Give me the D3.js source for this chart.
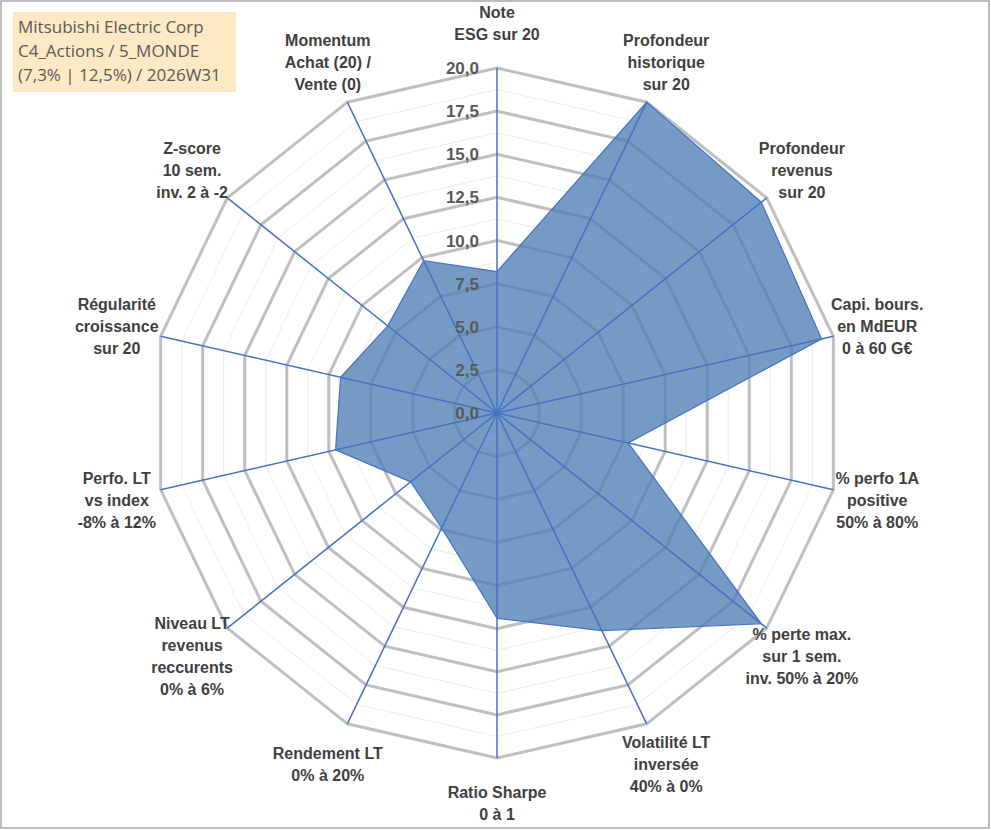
<!DOCTYPE html>
<html>
<head>
<meta charset="utf-8">
<script src="https://cdn.jsdelivr.net/npm/d3@7"></script>
<style>
  body { margin: 0; background: #fff; }
  svg { display: block; }
</style>
</head>
<body>
<svg id="chart" width="991" height="830"></svg>
<script>
// axis labels (clockwise from top)
const axes = [
  ['Note', 'ESG sur 20'],
  ['Profondeur', 'historique', 'sur 20'],
  ['Profondeur', 'revenus', 'sur 20'],
  ['Capi. bours.', 'en MdEUR', '0 à 60 G€'],
  ['% perfo 1A', 'positive', '50% à 80%'],
  ['% perte max.', 'sur 1 sem.', 'inv. 50% à 20%'],
  ['Volatilité LT', 'inversée', '40% à 0%'],
  ['Ratio Sharpe', '0 à 1'],
  ['Rendement LT', '0% à 20%'],
  ['Niveau LT', 'revenus', 'reccurents', '0% à 6%'],
  ['Perfo. LT', 'vs index', '-8% à 12%'],
  ['Régularité', 'croissance', 'sur 20'],
  ['Z-score', '10 sem.', 'inv. 2 à -2'],
  ['Momentum', 'Achat (20) /', 'Vente (0)']
];
const scores = [8.2, 20, 19.6, 19.3, 7.8, 19.6, 14.0, 11.9, 7.4, 6.4, 9.6, 9.3, 8.1, 9.8];
const ticks = [0, 2.5, 5, 7.5, 10, 12.5, 15, 17.5, 20];
const titleLines = ['Mitsubishi Electric Corp', 'C4_Actions / 5_MONDE', '(7,3% | 12,5%) / 2026W31'];

const svg = d3.select('#chart');
const cx = 497, cy = 413, R = 345;
const n = axes.length;
const angle = d3.scaleLinear().domain([0, n]).range([0, 2 * Math.PI]);
const r = d3.scaleLinear().domain([0, 20]).range([0, R]);
const pt = (i, v) => [cx + r(v) * Math.sin(angle(i)), cy - r(v) * Math.cos(angle(i))];

// frame
svg.append('rect').attr('x', 1).attr('y', 1).attr('width', 988).attr('height', 827)
  .attr('fill', '#fff').attr('stroke', '#a6a6a6').attr('stroke-width', 1.5);

// minor rings
const minor = d3.range(1.25, 20, 2.5);
svg.selectAll('.minor').data(minor).enter().append('polygon')
  .attr('points', (v) => d3.range(n).map((i) => pt(i, v).join(',')).join(' '))
  .attr('fill', 'none').attr('stroke', '#ececec').attr('stroke-width', 1);

// major rings
svg.selectAll('.ring').data(ticks.slice(1)).enter().append('polygon')
  .attr('points', (v) => d3.range(n).map((i) => pt(i, v).join(',')).join(' '))
  .attr('fill', 'none').attr('stroke', '#bfbfbf').attr('stroke-width', 3);

// data area
svg.append('polygon')
  .attr('points', scores.map((v, i) => pt(i, v).join(',')).join(' '))
  .attr('fill', '#4f7fb4').attr('fill-opacity', 0.78)
  .attr('stroke', '#4472c4').attr('stroke-width', 1.2);

// spokes
svg.selectAll('.spoke').data(d3.range(n)).enter().append('line')
  .attr('x1', cx).attr('y1', cy)
  .attr('x2', (i) => pt(i, 20)[0]).attr('y2', (i) => pt(i, 20)[1])
  .attr('stroke', '#4472c4').attr('stroke-width', 1.5);

// tick labels
svg.selectAll('.tick').data(ticks).enter().append('text')
  .attr('x', cx - 18).attr('y', (v) => cy - r(v) + 6)
  .attr('text-anchor', 'end')
  .attr('font-family', 'Liberation Sans, Arial, sans-serif')
  .attr('font-weight', 'bold').attr('font-size', 17)
  .attr('fill', '#595959')
  .text((v) => d3.format('.1f')(v).replace('.', ','));

// axis labels
const lh = 22;
axes.forEach((lines, i) => {
  const [x, y] = pt(i, 20 * 390 / R);
  const t = svg.append('text')
    .attr('text-anchor', 'middle')
    .attr('font-family', 'Liberation Sans, Arial, sans-serif')
    .attr('font-weight', 'bold').attr('font-size', 16)
    .attr('fill', '#404040');
  lines.forEach((s, k) => {
    t.append('tspan').attr('x', x)
      .attr('y', y + (k - (lines.length - 1) / 2) * lh + 6)
      .text(s);
  });
});

// title box
svg.append('rect').attr('x', 13).attr('y', 12).attr('width', 223).attr('height', 80)
  .attr('fill', '#fde9c4');
const tt = svg.append('text')
  .attr('font-family', 'Open Sans, Liberation Sans, sans-serif')
  .attr('font-size', 17).attr('fill', '#595959');
titleLines.forEach((s, k) => {
  tt.append('tspan').attr('x', 18).attr('y', 33 + k * 24).text(s);
});
</script>
</body>
</html>
